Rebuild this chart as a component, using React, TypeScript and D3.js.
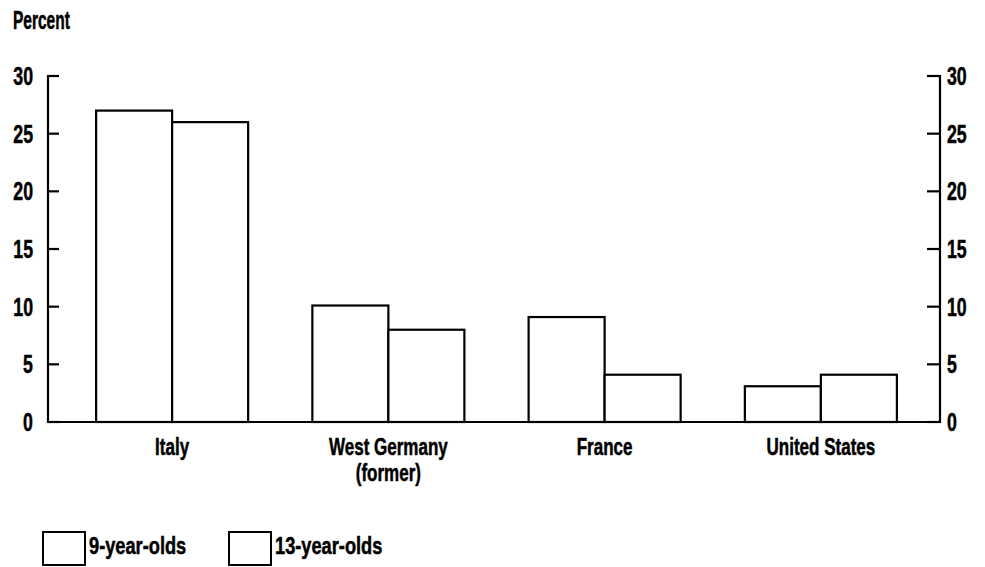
import * as React from "react";
import * as d3 from "d3";

const categories = ["Italy", "West Germany|(former)", "France", "United States"];
const series = ["9-year-olds", "13-year-olds"];
const nineYearOlds = [27, 10.1, 9.1, 3.1];
const thirteenYearOlds = [26, 8.0, 4.1, 4.1];
const yTicks = [0, 5, 10, 15, 20, 25, 30];

const W = 985;
const H = 567;
const FONT = "'Liberation Sans', Arial, sans-serif";

// condensed text: squeeze glyphs horizontally around the anchor point
const T = ({ x, y, sx = 0.7, anchor = "start", size = 25, children }: any) => (
    <text transform={`translate(${x},${y}) scale(${sx},1)`} textAnchor={anchor}
        fontSize={size} fontFamily={FONT} fontWeight="bold"
        stroke="#000" strokeWidth={0.5}>{children}</text>
);

const App = () => {
    const left = 48, right = 940, top = 76, bottom = 422;

    const y = d3.scaleLinear().domain([0, 30]).range([bottom, top]);
    const x0 = d3.scaleBand<string>()
        .domain(categories)
        .range([64, 929])
        .paddingInner(0.297)
        .paddingOuter(0.1485);
    const x1 = d3.scaleBand<string>().domain(series).range([0, x0.bandwidth()]);

    const values = [nineYearOlds, thirteenYearOlds];

    return (
        <svg width={W} height={H} style={{ display: "block", position: "absolute", left: 0, top: 0 }}>
            <rect width={W} height={H} fill="#fff" />
            <T x={13} y={29} sx={0.62}>Percent</T>

            {/* bars */}
            {categories.map((c, i) => (
                <g key={c} transform={`translate(${x0(c)},0)`}>
                    {series.map((s, j) => (
                        <rect key={s}
                            x={x1(s)}
                            y={y(values[j][i])}
                            width={x1.bandwidth()}
                            height={y(0) - y(values[j][i])}
                            fill="#fff" stroke="#000" strokeWidth={2.2} />
                    ))}
                    {c.split("|").map((t, k) => (
                        <T key={k} x={x0.bandwidth() / 2} y={455 + k * 26} anchor="middle" sx={0.74} size={23}>{t}</T>
                    ))}
                </g>
            ))}

            {/* axes */}
            <g stroke="#000" strokeWidth={2.2} fill="none">
                <line x1={left} x2={left} y1={top - 1} y2={bottom + 1} />
                <line x1={right} x2={right} y1={top - 1} y2={bottom + 1} />
                <line x1={left} x2={right} y1={bottom} y2={bottom} />
                {yTicks.map(t => (
                    <g key={t}>
                        <line x1={left} x2={left + 11} y1={y(t)} y2={y(t)} />
                        <line x1={right - 13} x2={right} y1={y(t)} y2={y(t)} />
                    </g>
                ))}
            </g>
            {yTicks.map(t => (
                <g key={t}>
                    <T x={33} y={y(t) + 8.9} anchor="end" sx={0.71}>{t}</T>
                    <T x={947} y={y(t) + 8.9} anchor="start" sx={0.71}>{t}</T>
                </g>
            ))}

            {/* legend */}
            {series.map((s, j) => (
                <g key={s} transform={`translate(${[43, 229][j]},532)`}>
                    <rect x={0} y={0} width={42} height={33} fill="#fff" stroke="#000" strokeWidth={2} />
                    <T x={46} y={22} sx={0.76} size={24}>{s}</T>
                </g>
            ))}
        </svg>
    );
};

export default App;
